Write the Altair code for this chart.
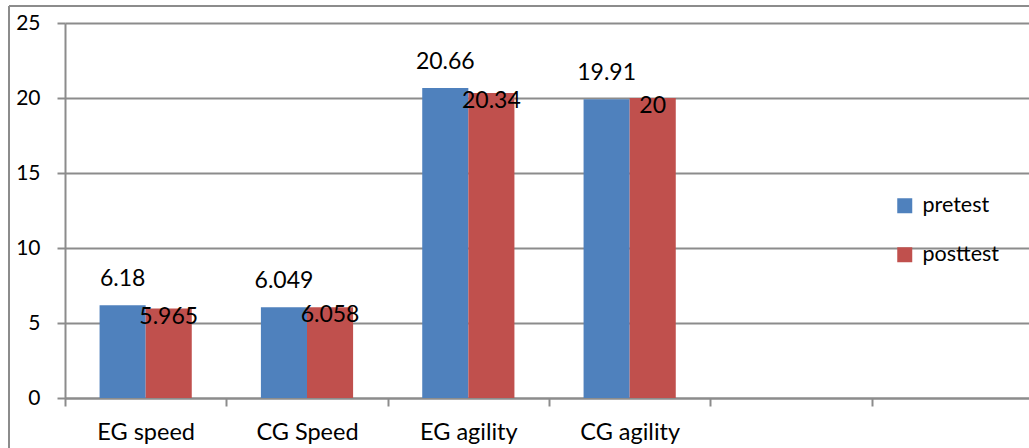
import altair as alt
import pandas as pd

# Chart data
categories = ["EG speed", "CG Speed", "EG agility", "CG agility"]
spare_slots = ["slot5", "slot6"]  # two empty category slots on the axis
series = ["pretest", "posttest"]
pretest = [6.18, 6.049, 20.66, 19.91]
posttest = [5.965, 6.058, 20.34, 20]
y_ticks = [0, 5, 10, 15, 20, 25]
colors = ["#4F81BD", "#C0504D"]

rows = []
for name, vals in zip(series, [pretest, posttest]):
    for cat, v in zip(categories, vals):
        rows.append({"category": cat, "series": name, "value": v, "label": f"{v:g}"})
df = pd.DataFrame(rows)

GRAY = "#8c8c8c"
FONT = "Lato"
SLOT_SPAN = 968  # six category slots
W, H = 963, 375

x_enc = alt.X(
    "category:N",
    scale=alt.Scale(domain=categories + spare_slots, range=[0, SLOT_SPAN],
                    paddingInner=0, paddingOuter=0),
    axis=alt.Axis(
        title=None, labelAngle=0, grid=False,
        labelExpr="indexof(datum.label, 'slot') == 0 ? '' : datum.label",
        tickBand="extent", tickSize=8, tickWidth=2, tickColor=GRAY,
        domainColor=GRAY, domainWidth=2,
        labelFont=FONT, labelFontSize=23.5, labelColor="black", labelPadding=14,
    ),
)
y_enc = alt.Y(
    "value:Q",
    scale=alt.Scale(domain=[0, 25], nice=False, zero=True),
    axis=alt.Axis(
        title=None, values=y_ticks, grid=True, gridColor=GRAY, gridWidth=2,
        tickSize=8, tickWidth=2, tickColor=GRAY, domainColor=GRAY, domainWidth=2,
        labelFont=FONT, labelFontSize=21, labelColor="black", labelPadding=17,
    ),
)
xoff = alt.XOffset("series:N", scale=alt.Scale(domain=series, paddingInner=0, paddingOuter=0.75))

base = alt.Chart(df)

bars = base.mark_bar().encode(
    x=x_enc,
    y=y_enc,
    xOffset=xoff,
    color=alt.Color(
        "series:N",
        scale=alt.Scale(domain=series, range=colors),
        legend=alt.Legend(
            title=None, orient="none", legendX=829, legendY=172,
            symbolType="square", symbolSize=225, symbolStrokeWidth=0,
            labelFont=FONT, labelFontSize=21.5, labelColor="black", labelOffset=7,
            rowPadding=26, padding=0,
        ),
    ),
)

pre_text = base.transform_filter(alt.datum.series == "pretest").mark_text(
    font=FONT, fontSize=23, color="black", baseline="middle", dy=-26
).encode(x=x_enc, y=y_enc, xOffset=xoff, text="label:N")

post_text = base.transform_filter(alt.datum.series == "posttest").mark_text(
    font=FONT, fontSize=23, color="black", baseline="middle", dy=8
).encode(x=x_enc, y=y_enc, xOffset=xoff, text="label:N")

# Outer frame of the figure
frame_df = pd.DataFrame({"k": [0]})
frame_left = alt.Chart(frame_df).mark_rule(color=GRAY, strokeWidth=2).encode(
    x=alt.value(-56), y=alt.value(-17), y2=alt.value(600)
)
frame_top = alt.Chart(frame_df).mark_rule(color=GRAY, strokeWidth=2).encode(
    x=alt.value(-56), x2=alt.value(1200), y=alt.value(-17)
)

chart = (
    alt.layer(bars, pre_text, post_text, frame_left, frame_top)
    .properties(
        width=W, height=H,
        autosize=alt.AutoSizeParams(type="none"),
        padding={"left": 65, "top": 23, "right": 1, "bottom": 50},
        background="white",
    )
    .configure_view(stroke=None)
)

chart.save("out.html", embed_options={"renderer": "svg", "actions": False})
